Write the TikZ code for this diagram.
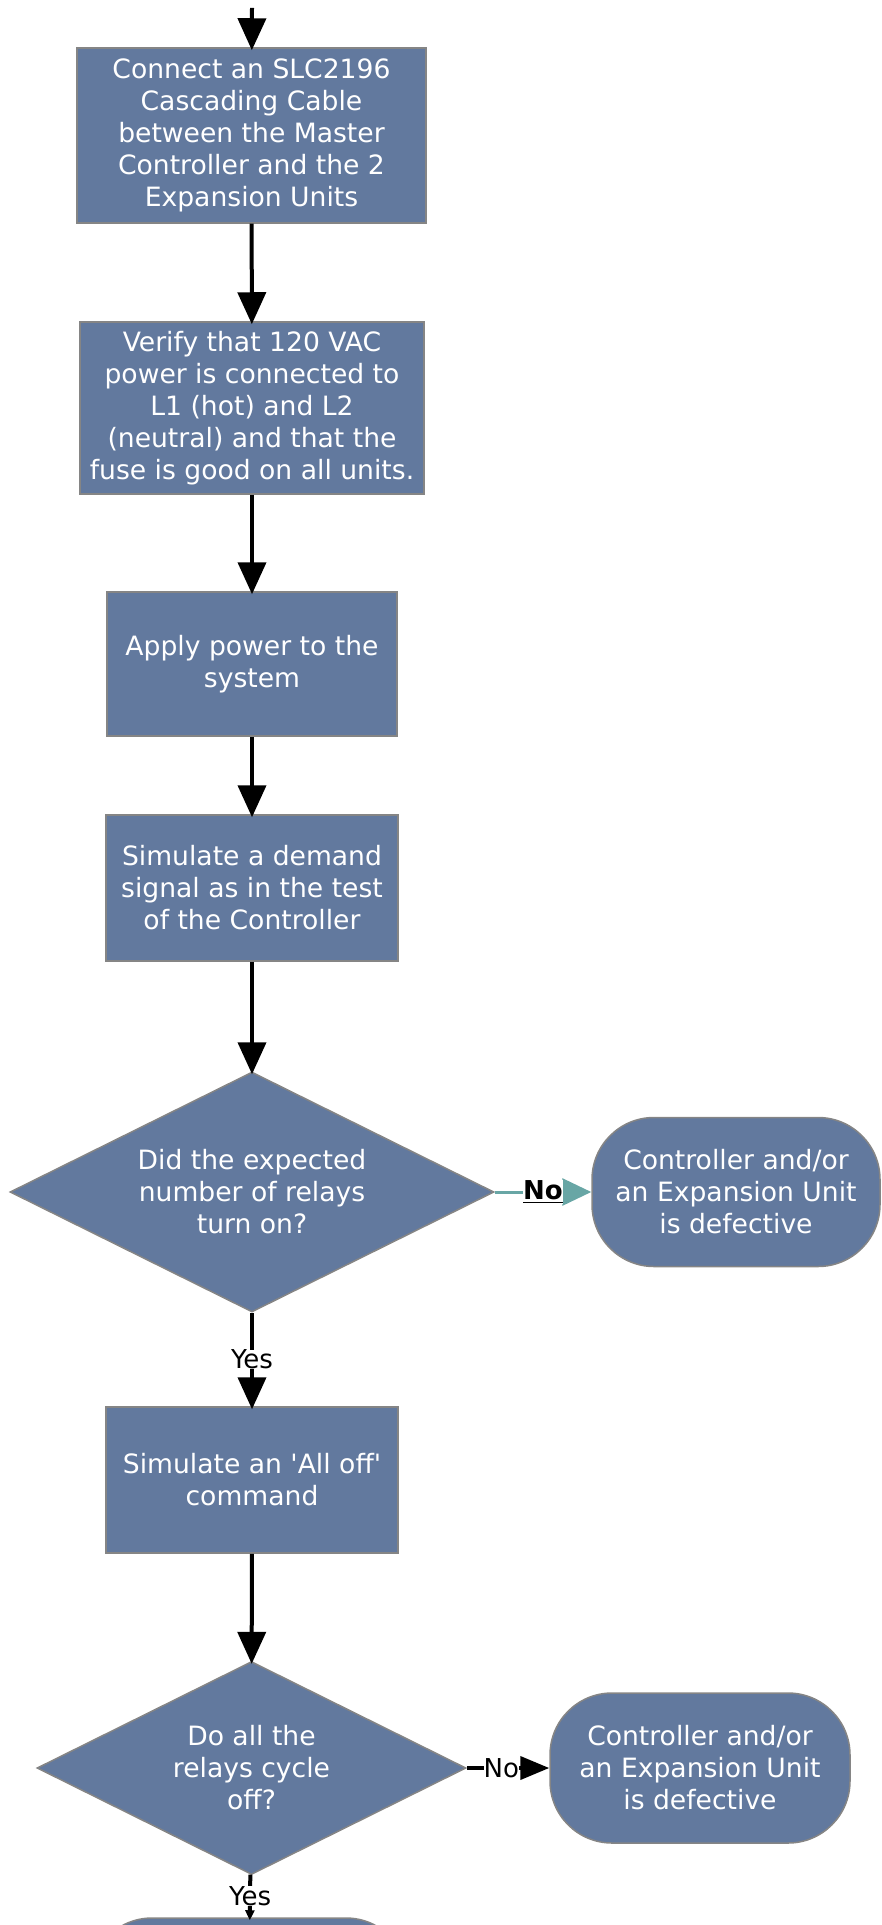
\documentclass[tikz,border=0pt]{standalone}
\usepackage{fontspec}
\newfontfamily\flowfont{DejaVu Sans}
\usetikzlibrary{arrows.meta,positioning,calc,shapes.geometric}
\definecolor{boxblue}{RGB}{98,121,158}
\definecolor{boxedge}{RGB}{133,133,133}
\definecolor{noteal}{RGB}{104,166,165}
\tikzset{process/.style={rectangle, draw=boxedge, line width=0.75pt, fill=boxblue, text=white, align=center, inner sep=0pt, font=\flowfont\fontsize{13.3}{16}\selectfont},
	decision/.style={process, diamond, shape aspect=2},
	terminal/.style={process, rounded corners=31pt},
	flow/.style={line width=2pt, -{Triangle[length=16pt,width=14pt]}, shorten >=-1.5pt},
	answer/.style={fill=white, inner sep=0pt, text=black, font=\flowfont\fontsize{13}{15}\selectfont}}

\begin{document}
\begin{tikzpicture}[x=0.5pt,y=-0.5pt]
		\useasboundingbox (0,0) rectangle (882,1925);
		\clip (0,0) rectangle (882,1925);
		\coordinate (start) at (252,8);
		\node[process, minimum width=174.5pt, minimum height=87.5pt] (cable) at (251.5,135.5) {Connect an SLC2196\\Cascading Cable\\between the Master\\Controller and the 2\\Expansion Units};
		\node[process, minimum width=172pt, minimum height=86pt] (verify) at (252,408) {Verify that 120 VAC\\power is connected to\\L1 (hot) and L2\\(neutral) and that the\\fuse is good on all units.};
		\node[process, minimum width=145pt, minimum height=72pt] (power) at (252,664) {Apply power to the\\system};
		\node[process, minimum width=146pt, minimum height=73pt] (demand) at (252,888) {Simulate a demand\\signal as in the test\\of the Controller};
		\node[decision, minimum width=242pt, minimum height=120pt] (relayson) at (252,1192) {Did the expected\\number of relays\\turn on?};
		\node[terminal, minimum width=144pt, minimum height=74.5pt] (faulton) at (736,1192) {Controller and/or\\an Expansion Unit\\is defective};
		\node[process, minimum width=146pt, minimum height=73pt] (alloff) at (252,1480) {Simulate an 'All off'\\command};
		\node[decision, minimum width=214.5pt, minimum height=106.5pt] (relaysoff) at (251.5,1768) {Do all the\\relays cycle\\off?};
		\node[terminal, minimum width=150pt, minimum height=75pt] (faultoff) at (700,1768) {Controller and/or\\an Expansion Unit\\is defective};
		\node[terminal, minimum width=159pt, minimum height=75pt] (finish) at (249,1993) {};
		% main line
		\draw[flow] (start) -- (cable);
		\draw[flow] (cable) -- (verify);
		\draw[flow] (verify) -- (power);
		\draw[flow] (power) -- (demand);
		\draw[flow] (demand) -- (relayson);
		\draw[flow] (relayson) -- node[answer]{Yes} (alloff);
		\draw[flow] (alloff) -- (relaysoff);
		\draw[flow, -{Triangle[length=5pt,width=4.5pt]}] (relaysoff) -- node[answer]{Yes} (finish);
		% the No branches
		\draw[noteal, line width=1.5pt, -{Triangle[length=14.5pt,width=13.5pt]}] (relayson.east) -- node[answer, font=\flowfont\bfseries\fontsize{13}{15}\selectfont]{\underline{No}} (faulton.west);
		\draw[line width=2pt, -{Triangle[length=14.5pt,width=11.5pt]}] (relaysoff.east) -- node[answer, pos=0.42]{No} (faultoff.west);
\end{tikzpicture}
\end{document}
